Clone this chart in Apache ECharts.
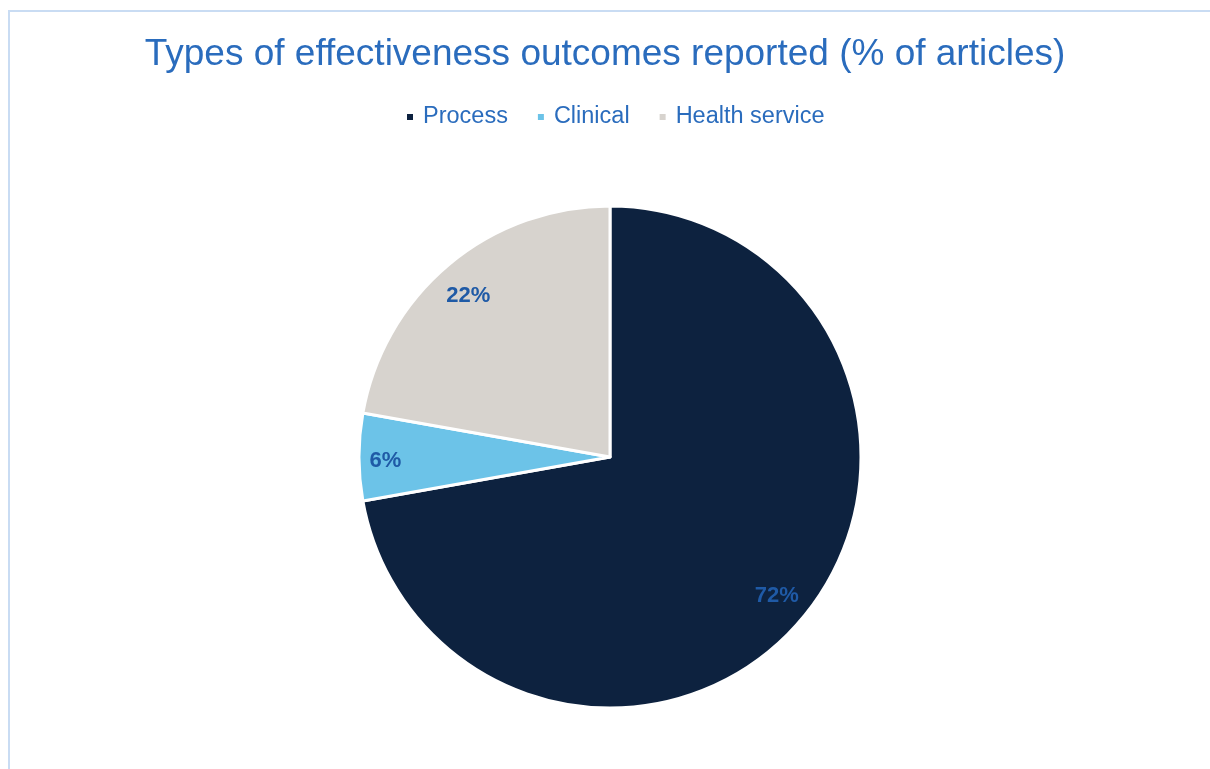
<!DOCTYPE html>
<html>
<head>
<meta charset="utf-8">
<script src="https://cdn.jsdelivr.net/npm/echarts@6/dist/echarts.min.js"></script>
<style>
  html, body { margin: 0; padding: 0; background: #fff; }
  .frame {
    position: absolute;
    left: 8px;
    top: 10px;
    width: 1300px;
    height: 900px;
    border-left: 2px solid #c9dcf3;
    border-top: 2px solid #c9dcf3;
  }
  #chart { position: absolute; left: 0; top: 0; width: 1210px; height: 769px; }
</style>
</head>
<body>
<div class="frame"></div>
<div id="chart"></div>
<script>
const categories = ['Process', 'Clinical', 'Health service'];
const shares = [72.2, 5.6, 22.2];
const colors = ['#0d223f', '#6cc3e8', '#d7d3ce'];

const pieData = categories.map((name, i) => ({
  name: name,
  value: shares[i],
  itemStyle: { color: colors[i] }
}));

// small label nudges so the text sits where the original put it
const nudge = { 'Process': [0, -1], 'Clinical': [-7, 4], 'Health service': [-2, 6] };

const chart = echarts.init(document.getElementById('chart'));
chart.setOption({
  animation: false,
  title: {
    text: 'Types of effectiveness outcomes reported (% of articles)',
    left: 'center',
    top: 31,
    textStyle: {
      fontFamily: 'Liberation Sans, Arial, sans-serif',
      fontSize: 37,
      fontWeight: 'normal',
      color: '#2a6cbd'
    }
  },
  legend: {
    top: 100,
    left: 400,
    icon: 'rect',
    itemWidth: 8,
    itemHeight: 8,
    itemGap: 28,
    data: categories,
    textStyle: {
      fontFamily: 'Liberation Sans, Arial, sans-serif',
      fontSize: 23.5,
      color: '#2a6cbd',
      padding: [0, 0, 0, 4]
    }
  },
  series: [
    {
      type: 'pie',
      center: [610, 457],
      radius: [0, 251],
      startAngle: 90,
      clockwise: true,
      silent: true,
      label: { show: false },
      labelLine: { show: false },
      itemStyle: { borderColor: '#ffffff', borderWidth: 3 },
      data: pieData
    },
    {
      // transparent ring used only to place the labels near the rim
      type: 'pie',
      center: [610, 457],
      radius: [178, 251],
      startAngle: 90,
      clockwise: true,
      silent: true,
      legendHoverLink: false,
      percentPrecision: 0,
      itemStyle: { color: 'rgba(0,0,0,0)' },
      label: {
        show: true,
        position: 'inside',
        formatter: '{d}%',
        fontFamily: 'Liberation Sans, Arial, sans-serif',
        fontSize: 22,
        fontWeight: 'bold',
        color: '#1f5aa6'
      },
      labelLine: { show: false },
      data: categories.map((name, i) => ({
        name: name,
        value: shares[i],
        label: { offset: nudge[name] }
      }))
    }
  ]
});
window.addEventListener('resize', () => chart.resize());
</script>
</body>
</html>
